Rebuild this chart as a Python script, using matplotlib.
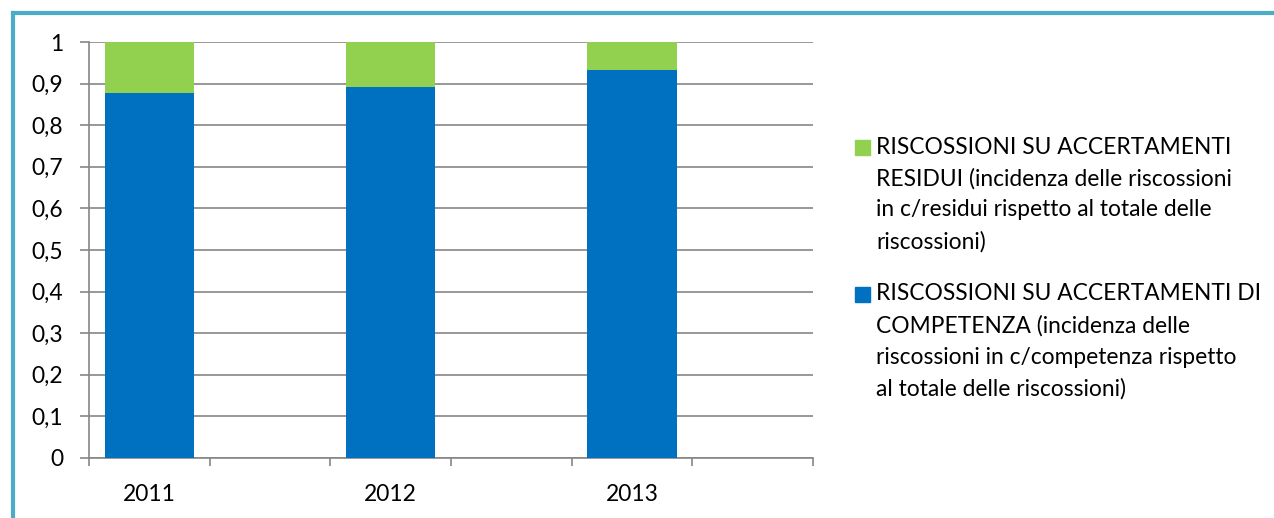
import matplotlib.pyplot as plt
from matplotlib.lines import Line2D
from matplotlib.patches import Rectangle
import numpy as np

plt.rcParams['font.family'] = ['Lato', 'DejaVu Sans']

# six category slots, only every other one holds a year
categories = ['2011', '', '2012', '', '2013', '']
competenza = [0.877, np.nan, 0.892, np.nan, 0.933, np.nan]
residui = [0.123, np.nan, 0.108, np.nan, 0.067, np.nan]

label_residui = ['RISCOSSIONI SU ACCERTAMENTI',
                 'RESIDUI (incidenza delle riscossioni',
                 'in c/residui rispetto al totale delle',
                 'riscossioni)']
label_competenza = ['RISCOSSIONI SU ACCERTAMENTI DI',
                    'COMPETENZA (incidenza delle',
                    'riscossioni in c/competenza rispetto',
                    'al totale delle riscossioni)']

blue = '#0070C0'
green = '#92D050'
grid_grey = '#868686'
fs = 16.4

W, H = 1274, 518
fig = plt.figure(figsize=(W / 100, H / 100), dpi=100)
ax = fig.add_axes([89 / W, (H - 458) / H, (813 - 89) / W, (458 - 42) / H])

x = np.arange(len(categories))
ax.bar(x, competenza, width=0.74, color=blue, zorder=3)
ax.bar(x, residui, width=0.74, bottom=competenza, color=green, zorder=3)

ax.set_xlim(-0.5, len(categories) - 0.5)
ax.set_ylim(0, 1)
ax.set_yticks(np.arange(0, 1.01, 0.1))
ax.set_yticklabels(['0' if v == 0 else ('1' if v == 1 else f'{v:.1f}'.replace('.', ','))
                    for v in np.arange(0, 1.01, 0.1)])
ax.yaxis.grid(True, color=grid_grey, linewidth=1.2, zorder=0)

ax.set_xticks(x)
ax.set_xticklabels(categories)
ax.set_xticks(np.arange(-0.5, len(categories), 1), minor=True)
ax.tick_params(axis='x', which='major', length=0, pad=19, labelsize=fs)
ax.tick_params(axis='x', which='minor', length=6, width=1.2, color=grid_grey, direction='out')
ax.tick_params(axis='y', length=6.5, width=1.2, color=grid_grey, pad=12, labelsize=fs)

for side in ('top', 'right'):
    ax.spines[side].set_visible(False)
for side in ('left', 'bottom'):
    ax.spines[side].set_color(grid_grey)
    ax.spines[side].set_linewidth(1.2)

# legend drawn by hand: square marker beside the first line of each wrapped label
step = 31.5
for colour, lines, top in ((green, label_residui, 147), (blue, label_competenza, 294)):
    fig.patches.append(Rectangle((855 / W, (H - top - 8) / H), 15 / W, 15 / H,
                                 transform=fig.transFigure, color=colour))
    for i, line in enumerate(lines):
        fig.text(876 / W, (H - top - i * step) / H, line, fontsize=fs,
                 va='center', ha='left')

# frame edges of the chart area
fig.add_artist(Line2D([13 / W, 1], [(H - 13) / H] * 2, color='#4BACC6', linewidth=3))
fig.add_artist(Line2D([13 / W] * 2, [0, (H - 13) / H], color='#4BACC6', linewidth=3))

fig.savefig('out.png', dpi=100)
